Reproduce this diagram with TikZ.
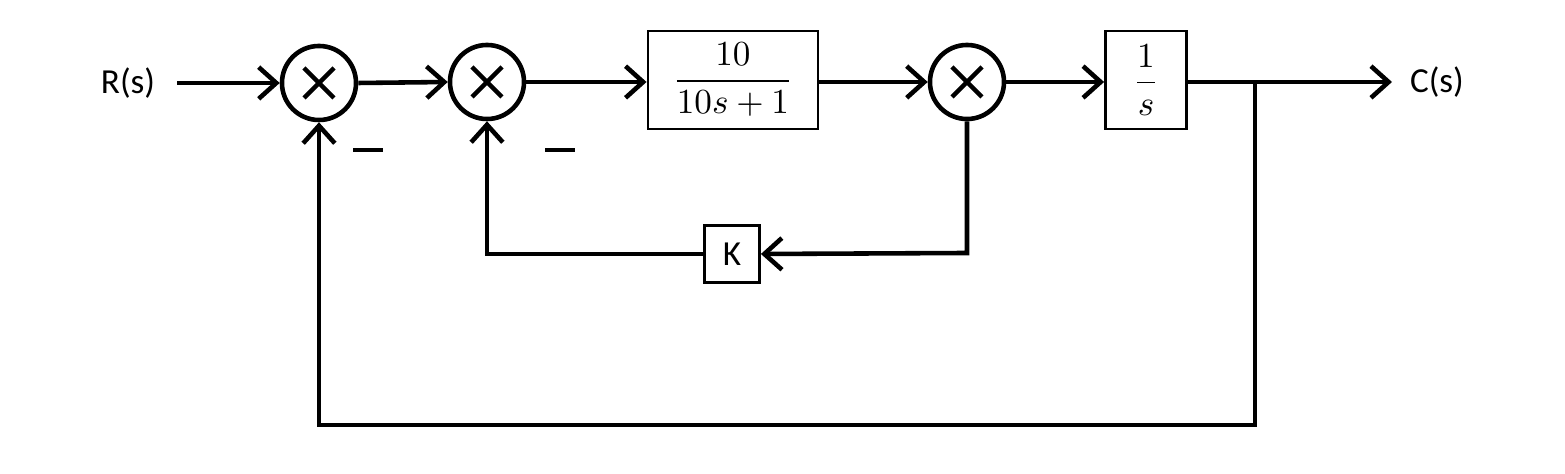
\documentclass[tikz,border=0pt]{standalone}
\usepackage{amsmath}
\usepackage{fontspec}
\setmainfont{Carlito}
\usetikzlibrary{arrows.meta}
\begin{document}
\begin{tikzpicture}[x=0.01cm,y=-0.01cm, line width=1.3pt]
\tikzset{ >={Straight Barb[length=5pt,width=9pt]},
  soma/.style={draw, circle, minimum size=0.74cm, inner sep=0pt},
  bloco/.style={draw, line width=0.8pt, inner sep=0pt, font=\fontsize{10}{12}\selectfont},
  rotulo/.style={font=\fontsize{10}{12}\selectfont},
}
\useasboundingbox (0,0) rectangle (1565,474);

%%% Blocos

% somadores
\node [soma] (S1) at (319,83) { };
\node [soma] (S2) at (487,82) { };
\node [soma] (S3) at (967,82) { };
\foreach \s in {S1,S2,S3} {
  \draw ([shift={(-15,-15)}]\s.center) -- ++(30,30);
  \draw ([shift={(-15,15)}]\s.center) -- ++(30,-30);
}

% G1
\node [bloco, minimum width=1.70cm, minimum height=0.98cm] (G1) at (733,80) {$\dfrac{10}{10s+1}$};

% integrador
\node [bloco, minimum width=0.81cm, minimum height=0.98cm] (G2) at (1146,80) {$\dfrac{1}{s}$};

% K
\node [bloco, minimum width=0.55cm, minimum height=0.57cm] (K) at (732,254) {K};

%%% Linhas

% entrada
\node [rotulo] (R) at (128,83) {R(s)};
\draw [->] (177,83) -- (S1.west);
\draw [->] (S1.east) -- (S2.west);
\draw [->] (S2.east) -- (G1.west |- S2.east);
\draw [->] (G1.east |- S3.west) -- (S3.west);
\draw [->] (S3.east) -- (G2.west |- S3.east);

% saida
\node [rotulo] (C) at (1437,82) {C(s)};
\draw [->] (G2.east |- S3.east) -- (1392,82);

% malha interna
\coordinate (P1) at (967,253);
\draw [->] (S3.south) -- (P1) -- (K.east);
\draw [->] (K.west) -- (487,254) -- (S2.south);

% malha externa
\coordinate (P2) at (1255,82);
\draw [->] (P2) -- (1255,425) -- (319,425) -- (S1.south);

% sinais
\node [rotulo] (m1) at (368,150) {\rule{8.5pt}{0.9pt}};
\node [rotulo] (m2) at (560,150) {\rule{8.5pt}{0.9pt}};

\end{tikzpicture}
\end{document}
